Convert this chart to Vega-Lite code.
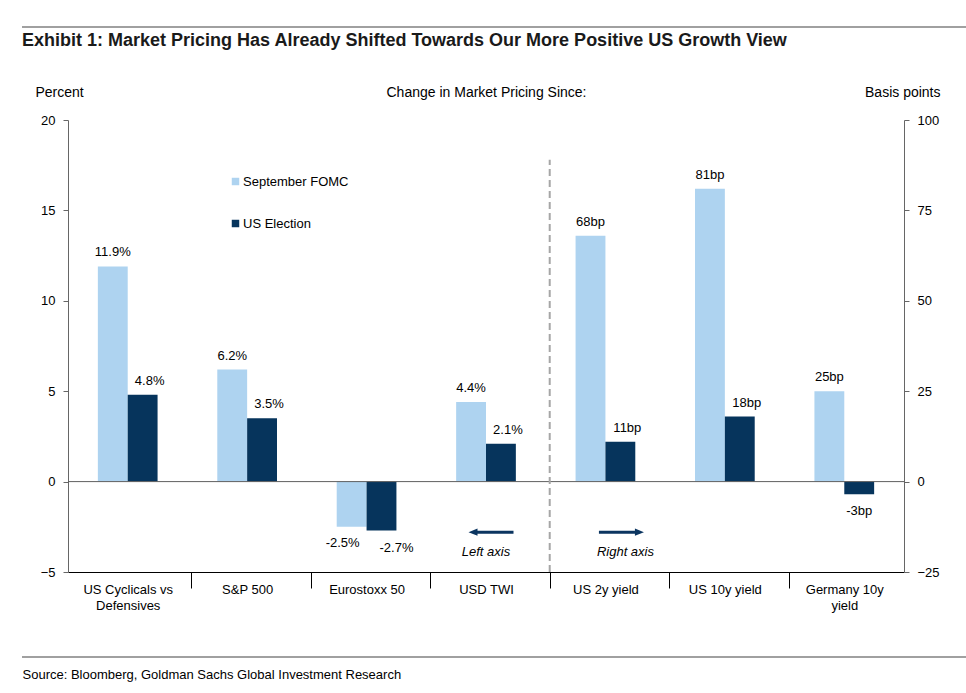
{
  "$schema": "https://vega.github.io/schema/vega-lite/v6.json",
  "width": 836,
  "height": 452,
  "autosize": {"type": "none"},
  "padding": {"left": 68, "top": 120, "right": 62, "bottom": 121},
  "background": "white",
  "config": {
    "view": {"stroke": null},
    "font": "Liberation Sans",
    "text": {"font": "Liberation Sans", "fontSize": 13, "color": "#000000"}
  },
  "title": {
    "text": "Exhibit 1: Market Pricing Has Already Shifted Towards Our More Positive US Growth View",
    "anchor": "start",
    "frame": "group",
    "dx": -46,
    "offset": -38,
    "baseline": "alphabetic",
    "font": "Liberation Sans",
    "fontSize": 18,
    "fontWeight": "bold",
    "color": "#1a1a1a"
  },
  "data": {
    "values": [
      {"asset": "US Cyclicals vs Defensives", "series": "September FOMC", "unit": "pct", "value": 11.9, "label": "11.9%"},
      {"asset": "US Cyclicals vs Defensives", "series": "US Election", "unit": "pct", "value": 4.8, "label": "4.8%"},
      {"asset": "S&P 500", "series": "September FOMC", "unit": "pct", "value": 6.2, "label": "6.2%"},
      {"asset": "S&P 500", "series": "US Election", "unit": "pct", "value": 3.5, "label": "3.5%"},
      {"asset": "Eurostoxx 50", "series": "September FOMC", "unit": "pct", "value": -2.5, "label": "-2.5%"},
      {"asset": "Eurostoxx 50", "series": "US Election", "unit": "pct", "value": -2.7, "label": "-2.7%"},
      {"asset": "USD TWI", "series": "September FOMC", "unit": "pct", "value": 4.4, "label": "4.4%"},
      {"asset": "USD TWI", "series": "US Election", "unit": "pct", "value": 2.1, "label": "2.1%"},
      {"asset": "US 2y yield", "series": "September FOMC", "unit": "bp", "value": 68, "label": "68bp"},
      {"asset": "US 2y yield", "series": "US Election", "unit": "bp", "value": 11, "label": "11bp"},
      {"asset": "US 10y yield", "series": "September FOMC", "unit": "bp", "value": 81, "label": "81bp"},
      {"asset": "US 10y yield", "series": "US Election", "unit": "bp", "value": 18, "label": "18bp"},
      {"asset": "Germany 10y yield", "series": "September FOMC", "unit": "bp", "value": 25, "label": "25bp"},
      {"asset": "Germany 10y yield", "series": "US Election", "unit": "bp", "value": -3.5, "label": "-3bp"}
    ]
  },
  "layer": [
    {
      "transform": [{"filter": "datum.unit === 'pct'"}],
      "mark": {"type": "bar"},
      "encoding": {
        "x": {
          "field": "asset", "type": "nominal",
          "scale": {"domain": ["US Cyclicals vs Defensives", "S&P 500", "Eurostoxx 50", "USD TWI", "US 2y yield", "US 10y yield", "Germany 10y yield"], "paddingInner": 0, "paddingOuter": 0},
          "axis": {
            "orient": "bottom",
            "title": "Source: Bloomberg, Goldman Sachs Global Investment Research",
            "titleX": -46, "titleY": 102, "titleAlign": "left", "titleAnchor": "start", "titleBaseline": "middle",
            "titleFont": "Liberation Sans", "titleFontSize": 13, "titleFontWeight": "normal", "titleColor": "#000000",
            "labelAngle": 0, "labelFontSize": 13, "labelColor": "#000000", "labelLineHeight": 16, "labelPadding": -5,
            "labelExpr": "datum.value === 'US Cyclicals vs Defensives' ? ['US Cyclicals vs', 'Defensives'] : datum.value === 'Germany 10y yield' ? ['Germany 10y', 'yield'] : datum.label",
            "bandPosition": 0, "tickOffset": 4, "labelOffset": -4, "tickSize": 16, "tickColor": "#000000",
            "tickOpacity": {"condition": {"test": "datum.value === 'US Cyclicals vs Defensives'", "value": 0}, "value": 1},
            "domainColor": "#000000", "grid": false
          }
        },
        "xOffset": {"field": "series", "type": "nominal", "scale": {"domain": ["September FOMC", "US Election"], "paddingInner": 0, "paddingOuter": 1.1}},
        "y": {
          "field": "value", "type": "quantitative",
          "scale": {"domain": [-5, 20], "nice": false, "zero": false},
          "axis": {
            "orient": "left", "values": [-5, 0, 5, 10, 15, 20],
            "title": "Percent", "titleAngle": 0, "titleAlign": "left", "titleAnchor": "start", "titleBaseline": "middle",
            "titleX": -33, "titleY": -28, "titleFontSize": 14, "titleFontWeight": "normal", "titleColor": "#000000",
            "labelFontSize": 13, "labelColor": "#000000", "labelPadding": 8, "tickSize": 5, "tickColor": "#666666",
            "domainColor": "#666666", "grid": false
          }
        },
        "color": {
          "field": "series", "type": "nominal",
          "scale": {"domain": ["September FOMC", "US Election"], "range": ["#aed3f0", "#06345c"]},
          "legend": {
            "orient": "none", "legendX": 161, "legendY": 55, "title": null, "padding": 0,
            "symbolType": "square", "symbolSize": 56, "symbolStrokeWidth": 0,
            "labelFontSize": 13, "labelColor": "#000000", "labelOffset": 1, "rowPadding": 28
          }
        }
      }
    },
    {
      "transform": [{"filter": "datum.unit === 'bp'"}],
      "mark": {"type": "bar"},
      "encoding": {
        "x": {
          "field": "asset", "type": "nominal",
          "axis": {
            "orient": "top", "title": "Change in Market Pricing Since:",
            "titleX": 418, "titleY": -28, "titleAlign": "center", "titleBaseline": "middle",
            "titleFontSize": 14, "titleFontWeight": "normal", "titleColor": "#000000",
            "labels": false, "ticks": false, "domain": false, "grid": false
          }
        },
        "xOffset": {"field": "series", "type": "nominal"},
        "y": {
          "field": "value", "type": "quantitative",
          "scale": {"domain": [-25, 100], "nice": false, "zero": false},
          "axis": {
            "orient": "right", "values": [-25, 0, 25, 50, 75, 100],
            "title": "Basis points", "titleAngle": 0, "titleAlign": "right", "titleBaseline": "middle",
            "titleX": 36, "titleY": -28, "titleFontSize": 14, "titleFontWeight": "normal", "titleColor": "#000000",
            "labelFontSize": 13, "labelColor": "#000000", "labelPadding": 8, "tickSize": 5, "tickColor": "#666666",
            "domainColor": "#666666", "grid": false
          }
        },
        "color": {"field": "series", "type": "nominal", "legend": null}
      }
    },
    {
      "transform": [{"filter": "datum.unit === 'pct' && datum.value >= 0 && datum.series === 'September FOMC'"}],
      "mark": {"type": "text", "baseline": "middle", "dy": -14},
      "encoding": {
        "x": {"field": "asset", "type": "nominal", "axis": null},
        "xOffset": {"field": "series", "type": "nominal"},
        "y": {"field": "value", "type": "quantitative", "scale": {"domain": [-5, 20], "nice": false, "zero": false}, "axis": null},
        "text": {"field": "label"}
      }
    },
    {
      "transform": [{"filter": "datum.unit === 'pct' && datum.value >= 0 && datum.series === 'US Election'"}],
      "mark": {"type": "text", "baseline": "middle", "dy": -14, "dx": 7},
      "encoding": {
        "x": {"field": "asset", "type": "nominal", "axis": null},
        "xOffset": {"field": "series", "type": "nominal"},
        "y": {"field": "value", "type": "quantitative", "scale": {"domain": [-5, 20], "nice": false, "zero": false}, "axis": null},
        "text": {"field": "label"}
      }
    },
    {
      "transform": [{"filter": "datum.unit === 'pct' && datum.value < 0 && datum.series === 'September FOMC'"}],
      "mark": {"type": "text", "baseline": "middle", "dy": 16, "dx": -9},
      "encoding": {
        "x": {"field": "asset", "type": "nominal", "axis": null},
        "xOffset": {"field": "series", "type": "nominal"},
        "y": {"field": "value", "type": "quantitative", "scale": {"domain": [-5, 20], "nice": false, "zero": false}, "axis": null},
        "text": {"field": "label"}
      }
    },
    {
      "transform": [{"filter": "datum.unit === 'pct' && datum.value < 0 && datum.series === 'US Election'"}],
      "mark": {"type": "text", "baseline": "middle", "dy": 18, "dx": 15},
      "encoding": {
        "x": {"field": "asset", "type": "nominal", "axis": null},
        "xOffset": {"field": "series", "type": "nominal"},
        "y": {"field": "value", "type": "quantitative", "scale": {"domain": [-5, 20], "nice": false, "zero": false}, "axis": null},
        "text": {"field": "label"}
      }
    },
    {
      "transform": [{"filter": "datum.unit === 'bp' && datum.value >= 0 && datum.series === 'September FOMC'"}],
      "mark": {"type": "text", "baseline": "middle", "dy": -14},
      "encoding": {
        "x": {"field": "asset", "type": "nominal", "axis": null},
        "xOffset": {"field": "series", "type": "nominal"},
        "y": {"field": "value", "type": "quantitative", "scale": {"domain": [-25, 100], "nice": false, "zero": false}, "axis": null},
        "text": {"field": "label"}
      }
    },
    {
      "transform": [{"filter": "datum.unit === 'bp' && datum.value >= 0 && datum.series === 'US Election'"}],
      "mark": {"type": "text", "baseline": "middle", "dy": -14, "dx": 7},
      "encoding": {
        "x": {"field": "asset", "type": "nominal", "axis": null},
        "xOffset": {"field": "series", "type": "nominal"},
        "y": {"field": "value", "type": "quantitative", "scale": {"domain": [-25, 100], "nice": false, "zero": false}, "axis": null},
        "text": {"field": "label"}
      }
    },
    {
      "transform": [{"filter": "datum.unit === 'bp' && datum.value < 0"}],
      "mark": {"type": "text", "baseline": "middle", "dy": 17},
      "encoding": {
        "x": {"field": "asset", "type": "nominal", "axis": null},
        "xOffset": {"field": "series", "type": "nominal"},
        "y": {"field": "value", "type": "quantitative", "scale": {"domain": [-25, 100], "nice": false, "zero": false}, "axis": null},
        "text": {"field": "label"}
      }
    },
    {
      "data": {"values": [{}]},
      "mark": {"type": "rule", "color": "#5f5f5f", "strokeWidth": 1},
      "encoding": {
        "y": {"datum": 0, "type": "quantitative", "scale": {"domain": [-5, 20], "nice": false, "zero": false}, "axis": null}
      }
    },
    {
      "data": {"values": [{}]},
      "mark": {"type": "rule", "color": "#a6a6a6", "strokeWidth": 2, "strokeDash": [7, 4], "xOffset": 4},
      "encoding": {
        "x": {"datum": "US 2y yield", "type": "nominal", "bandPosition": 0, "axis": null},
        "y": {"datum": -5, "type": "quantitative", "scale": {"domain": [-5, 20], "nice": false, "zero": false}, "axis": null},
        "y2": {"datum": 17.8}
      }
    },
    {
      "data": {"values": [{}]},
      "mark": {"type": "point", "filled": true, "opacity": 1, "color": "#0b3560", "size": 2025, "xOffset": 5,
               "shape": "M-1,0L-0.6,-0.16L-0.6,-0.07L1,-0.07L1,0.07L-0.6,0.07L-0.6,0.16Z"},
      "encoding": {
        "x": {"datum": "USD TWI", "type": "nominal", "axis": null},
        "y": {"datum": -2.8, "type": "quantitative", "scale": {"domain": [-5, 20], "nice": false, "zero": false}, "axis": null}
      }
    },
    {
      "data": {"values": [{}]},
      "mark": {"type": "point", "filled": true, "opacity": 1, "color": "#0b3560", "size": 2025, "xOffset": 16,
               "shape": "M1,0L0.6,-0.16L0.6,-0.07L-1,-0.07L-1,0.07L0.6,0.07L0.6,0.16Z"},
      "encoding": {
        "x": {"datum": "US 2y yield", "type": "nominal", "axis": null},
        "y": {"datum": -2.8, "type": "quantitative", "scale": {"domain": [-5, 20], "nice": false, "zero": false}, "axis": null}
      }
    },
    {
      "data": {"values": [{}]},
      "mark": {"type": "text", "fontStyle": "italic", "baseline": "middle", "text": "Left axis"},
      "encoding": {
        "x": {"datum": "USD TWI", "type": "nominal", "axis": null},
        "y": {"datum": -3.9, "type": "quantitative", "scale": {"domain": [-5, 20], "nice": false, "zero": false}, "axis": null}
      }
    },
    {
      "data": {"values": [{}]},
      "mark": {"type": "text", "fontStyle": "italic", "baseline": "middle", "text": "Right axis", "dx": 20},
      "encoding": {
        "x": {"datum": "US 2y yield", "type": "nominal", "axis": null},
        "y": {"datum": -3.9, "type": "quantitative", "scale": {"domain": [-5, 20], "nice": false, "zero": false}, "axis": null}
      }
    },
    {
      "data": {"values": [{}]},
      "mark": {"type": "rule", "color": "#808080", "strokeWidth": 1.5},
      "encoding": {
        "x": {"value": -46}, "x2": {"value": 898}, "y": {"value": -93}
      }
    },
    {
      "data": {"values": [{}]},
      "mark": {"type": "rule", "color": "#808080", "strokeWidth": 1.5},
      "encoding": {
        "x": {"value": -46}, "x2": {"value": 898}, "y": {"value": 537}
      }
    }
  ],
  "resolve": {"scale": {"y": "independent"}, "axis": {"x": "independent", "y": "independent"}}
}
